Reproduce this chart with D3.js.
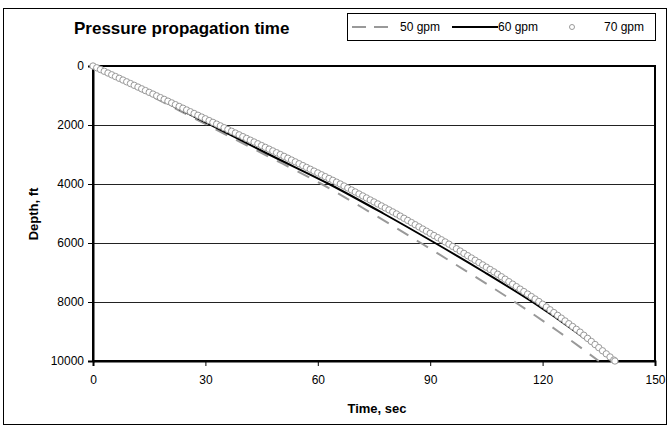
<!DOCTYPE html>
<html><head><meta charset="utf-8">
<script src="https://cdn.jsdelivr.net/npm/d3@7"></script>
<style>body{margin:0;background:#fff}svg{display:block;font-family:"Liberation Sans",Arial,sans-serif}</style>
</head><body>
<svg id="c" width="671" height="428"></svg>
<script>
// Data
const depthTicks = [0, 2000, 4000, 6000, 8000, 10000];
const timeTicks = [0, 30, 60, 90, 120, 150];
const seriesNames = ["50 gpm", "60 gpm", "70 gpm"];
// depth (ft) for line series
const lineDepth = [0, 1000, 2000, 3000, 4000, 5000, 6000, 7000, 8000, 9000, 10000];
const time50 = [0, 15.3, 30.5, 45.8, 61, 74.5, 87.5, 100.2, 112.6, 124.2, 135];
const time60 = [0, 15.8, 31.5, 47, 63, 77.5, 91.3, 104.6, 117.3, 128.7, 139];
// 70 gpm markers: time (s) and depth (ft)
const time70 = [0,1,2,3,4,5,6,7,8,9,10,11,12,13,14,15,16,17,18,19,20,21,22,23,24,25,26,27,28,29,30,31,32,33,34,35,36,37,38,39,40,41,42,43,44,45,46,47,48,49,50,51,52,53,54,55,56,57,58,59,60,61,62,63,64,65,66,67,68,69,70,71,72,73,74,75,76,77,78,79,80,81,82,83,84,85,86,87,88,89,90,91,92,93,94,95,96,97,98,99,100,101,102,103,104,105,106,107,108,109,110,111,112,113,114,115,116,117,118,119,120,121,122,123,124,125,126,127,128,129,130,131,132,133,134,135,136,137,138,139,139.3];
const depth70 = [0,60,119,179,238,298,357,417,476,536,595,655,714,774,833,893,952,1012,1072,1132,1192,1251,1311,1371,1431,1491,1551,1611,1671,1731,1790,1850,1910,1970,2030,2091,2152,2212,2273,2333,2394,2455,2515,2576,2636,2697,2758,2818,2879,2939,3000,3063,3125,3188,3250,3313,3375,3438,3500,3563,3625,3688,3750,3813,3875,3938,4000,4068,4135,4203,4270,4338,4405,4473,4541,4608,4676,4743,4811,4878,4946,5015,5088,5161,5234,5307,5380,5453,5526,5599,5672,5745,5818,5891,5964,6039,6117,6195,6273,6352,6430,6508,6586,6664,6742,6820,6898,6977,7059,7143,7227,7311,7395,7479,7563,7647,7731,7815,7899,7983,8075,8170,8264,8358,8453,8547,8642,8736,8830,8925,9021,9126,9232,9337,9442,9547,9653,9758,9863,9968,10000];

const svg = d3.select("#c");
const L = 93, R = 655, T = 66, B = 361;
const x = d3.scaleLinear().domain([0, 150]).range([L, R]);
const y = d3.scaleLinear().domain([0, 10000]).range([T, B]);
const FONT = "Liberation Sans, Arial, sans-serif";

// outer frame
svg.append("rect").attr("x", 3.5).attr("y", 8.5).attr("width", 663).attr("height", 416)
  .attr("fill", "#fff").attr("stroke", "#000").attr("stroke-width", 1);

// gridlines
svg.append("g").selectAll("line").data(depthTicks.slice(1, -1)).join("line")
  .attr("x1", L).attr("x2", R).attr("y1", d => Math.round(y(d)) + 0.5).attr("y2", d => Math.round(y(d)) + 0.5)
  .attr("stroke", "#222").attr("stroke-width", 1);

// plot border
svg.append("rect").attr("x", L).attr("y", T).attr("width", R - L).attr("height", B - T)
  .attr("fill", "none").attr("stroke", "#000").attr("stroke-width", 2);

// axes
const yAxis = d3.axisLeft(y).tickValues(depthTicks).tickSize(5).tickPadding(4).tickFormat(d3.format("d"));
const gy = svg.append("g").attr("transform", `translate(${L},0)`).call(yAxis);
const xAxis = d3.axisBottom(x).tickValues(timeTicks).tickSize(5).tickPadding(9);
const gx = svg.append("g").attr("transform", `translate(0,${B})`).call(xAxis);
[gy, gx].forEach(g => {
  g.select(".domain").attr("stroke-width", 2);
  g.selectAll("text").attr("font-size", 12).attr("fill", "#000").attr("font-family", FONT);
  g.selectAll(".tick line").attr("stroke-width", 1);
});

// lines
const line = d3.line().curve(d3.curveMonotoneY);
const pts50 = lineDepth.map((d, i) => [x(time50[i]), y(d)]);
const pts60 = lineDepth.map((d, i) => [x(time60[i]), y(d)]);
svg.append("path").attr("d", line(pts50)).attr("fill", "none").attr("stroke", "#999")
  .attr("stroke-width", 2).attr("stroke-dasharray", "13,10");
svg.append("path").attr("d", line(pts60)).attr("fill", "none").attr("stroke", "#000").attr("stroke-width", 2);

// markers
svg.append("g").selectAll("circle").data(time70.map((t, i) => [t, depth70[i]])).join("circle")
  .attr("cx", d => x(d[0])).attr("cy", d => y(d[1])).attr("r", 3.2)
  .attr("fill", "#fff").attr("stroke", "#999").attr("stroke-width", 1);

// title
svg.append("text").attr("x", 74).attr("y", 34).attr("font-size", 17).attr("font-weight", "bold")
  .attr("font-family", FONT).text("Pressure propagation time");

// axis titles
svg.append("text").attr("x", 377).attr("y", 413).attr("text-anchor", "middle")
  .attr("font-size", 13).attr("font-weight", "bold").text("Time, sec");
svg.append("text").attr("transform", "translate(38,214) rotate(-90)").attr("text-anchor", "middle")
  .attr("font-size", 13).attr("font-weight", "bold").text("Depth, ft");

// legend
const lg = svg.append("g");
lg.append("rect").attr("x", 347.5).attr("y", 13.5).attr("width", 308).attr("height", 27)
  .attr("fill", "#fff").attr("stroke", "#000");
const ly = 27;
lg.append("line").attr("x1", 352).attr("x2", 390).attr("y1", ly).attr("y2", ly)
  .attr("stroke", "#999").attr("stroke-width", 2).attr("stroke-dasharray", "14,8");
lg.append("text").attr("x", 400).attr("y", ly + 4).attr("font-size", 12).text(seriesNames[0]);
lg.append("line").attr("x1", 452).attr("x2", 498).attr("y1", ly).attr("y2", ly)
  .attr("stroke", "#000").attr("stroke-width", 2);
lg.append("text").attr("x", 498).attr("y", ly + 4).attr("font-size", 12).text(seriesNames[1]);
lg.append("circle").attr("cx", 572).attr("cy", ly).attr("r", 2.5)
  .attr("fill", "#fff").attr("stroke", "#999");
lg.append("text").attr("x", 604).attr("y", ly + 4).attr("font-size", 12).text(seriesNames[2]);
</script>
</body></html>
